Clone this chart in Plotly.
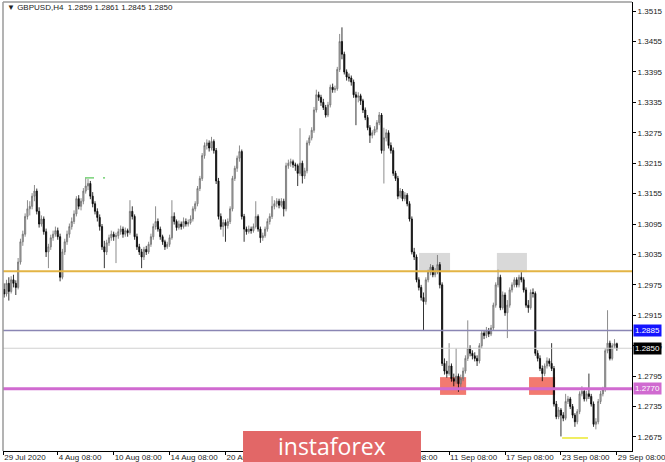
import plotly.graph_objects as go

# ---------------- data (GBPUSD H4) ----------------
bar_index = list(range(265))

opens = [
    1.2958, 1.2966, 1.2957, 1.2978, 1.2962, 1.2985, 1.2978, 1.2970, 1.3020, 1.3060,
    1.3075, 1.3110, 1.3125, 1.3130, 1.3150, 1.3160, 1.3120, 1.3095, 1.3105, 1.3080,
    1.3040, 1.3050, 1.3068, 1.3075, 1.3082, 1.3070, 1.2990, 1.3040, 1.3060, 1.3075,
    1.3090, 1.3100, 1.3115, 1.3145, 1.3130, 1.3140, 1.3160, 1.3170, 1.3175, 1.3150,
    1.3135, 1.3120, 1.3108, 1.3090, 1.3050, 1.3040, 1.3058, 1.3068, 1.3075, 1.3070,
    1.3072, 1.3080, 1.3085, 1.3075, 1.3082, 1.3078, 1.3120, 1.3110, 1.3070, 1.3050,
    1.3040, 1.3030, 1.3045, 1.3040, 1.3055, 1.3070, 1.3090, 1.3100, 1.3085, 1.3070,
    1.3060, 1.3050, 1.3055, 1.3068, 1.3110, 1.3100, 1.3088, 1.3095, 1.3090, 1.3100,
    1.3095, 1.3098, 1.3105, 1.3125, 1.3135, 1.3165, 1.3185, 1.3230, 1.3250, 1.3255,
    1.3245, 1.3258, 1.3240, 1.3180, 1.3110, 1.3090, 1.3098, 1.3092, 1.3100, 1.3125,
    1.3185, 1.3205, 1.3225, 1.3238, 1.3110, 1.3085, 1.3080, 1.3085, 1.3082, 1.3090,
    1.3110, 1.3085, 1.3068, 1.3072, 1.3085, 1.3100, 1.3110, 1.3130, 1.3135, 1.3140,
    1.3132, 1.3140, 1.3125, 1.3210, 1.3215, 1.3218, 1.3212, 1.3210, 1.3195, 1.3215,
    1.3190, 1.3200, 1.3255, 1.3265, 1.3280, 1.3320, 1.3350, 1.3345, 1.3335, 1.3325,
    1.3310, 1.3330, 1.3365, 1.3360, 1.3362, 1.3400, 1.3455, 1.3430, 1.3395, 1.3385,
    1.3383, 1.3375, 1.3350, 1.3345, 1.3348, 1.3338, 1.3320, 1.3305, 1.3285, 1.3270,
    1.3275, 1.3282, 1.3295, 1.3310, 1.3240, 1.3265, 1.3275, 1.3250, 1.3240, 1.3195,
    1.3185, 1.3150, 1.3160, 1.3145, 1.3152, 1.3135, 1.3105, 1.3040, 1.3030, 1.2985,
    1.2970, 1.2950, 1.2942, 1.2985, 1.3000, 1.3010, 1.2995, 1.3000, 1.3015, 1.2975,
    1.2820, 1.2805, 1.2800, 1.2815, 1.2790, 1.2785, 1.2795, 1.2780, 1.2790, 1.2805,
    1.2830, 1.2850, 1.2840, 1.2835, 1.2830, 1.2825, 1.2855, 1.2880, 1.2875, 1.2885,
    1.2878, 1.2890, 1.2935, 1.2975, 1.2990, 1.2930, 1.2955, 1.2920, 1.2935, 1.2965,
    1.2975, 1.2985, 1.2975, 1.2990, 1.2985, 1.2965, 1.2935, 1.2930, 1.2960, 1.2958,
    1.2840, 1.2830, 1.2810, 1.2800, 1.2815, 1.2825, 1.2820, 1.2810, 1.2740, 1.2715,
    1.2728, 1.2718, 1.2712, 1.2745, 1.2750, 1.2735, 1.2718, 1.2705, 1.2725, 1.2760,
    1.2765, 1.2750, 1.2760, 1.2755, 1.2740, 1.2700, 1.2705, 1.2745, 1.2760, 1.2768,
    1.2845, 1.2860, 1.2830, 1.2855, 1.2859,
]

highs = [
    1.2972, 1.2978, 1.2985, 1.2990, 1.2992, 1.2995, 1.2984, 1.3028, 1.3066, 1.3082,
    1.3116, 1.3142, 1.3140, 1.3156, 1.3172, 1.3165, 1.3128, 1.3112, 1.3110, 1.3086,
    1.3056, 1.3074, 1.3082, 1.3090, 1.3088, 1.3076, 1.3046, 1.3066, 1.3082, 1.3096,
    1.3108, 1.3122, 1.3150, 1.3152, 1.3146, 1.3166, 1.3185, 1.3184, 1.3180, 1.3158,
    1.3140, 1.3126, 1.3114, 1.3095, 1.3062, 1.3064, 1.3074, 1.3082, 1.3080, 1.3078,
    1.3086, 1.3092, 1.3090, 1.3088, 1.3086, 1.3142, 1.3130, 1.3114, 1.3076, 1.3056,
    1.3046, 1.3050, 1.3052, 1.3060, 1.3076, 1.3096, 1.3130, 1.3106, 1.3090, 1.3074,
    1.3064, 1.3060, 1.3074, 1.3142, 1.3118, 1.3104, 1.3102, 1.3100, 1.3108, 1.3106,
    1.3104, 1.3112, 1.3130, 1.3140, 1.3170, 1.3190, 1.3235, 1.3256, 1.3262, 1.3260,
    1.3267, 1.3262, 1.3245, 1.3186, 1.3116, 1.3104, 1.3104, 1.3106, 1.3130, 1.3190,
    1.3210, 1.3230, 1.3250, 1.3242, 1.3115, 1.3090, 1.3092, 1.3090, 1.3096, 1.3140,
    1.3114, 1.3090, 1.3078, 1.3090, 1.3106, 1.3116, 1.3150, 1.3142, 1.3146, 1.3145,
    1.3146, 1.3145, 1.3216, 1.3222, 1.3224, 1.3222, 1.3216, 1.3214, 1.3284, 1.3220,
    1.3206, 1.3260, 1.3270, 1.3286, 1.3326, 1.3360, 1.3356, 1.3350, 1.3342, 1.3330,
    1.3336, 1.3370, 1.3372, 1.3368, 1.3405, 1.3470, 1.3483, 1.3435, 1.3400, 1.3392,
    1.3388, 1.3380, 1.3356, 1.3355, 1.3352, 1.3342, 1.3325, 1.3310, 1.3290, 1.3280,
    1.3288, 1.3300, 1.3316, 1.3314, 1.3285, 1.3282, 1.3280, 1.3256, 1.3246, 1.3200,
    1.3190, 1.3166, 1.3164, 1.3158, 1.3156, 1.3140, 1.3110, 1.3048, 1.3035, 1.2990,
    1.2975, 1.2960, 1.2990, 1.3005, 1.3016, 1.3014, 1.3008, 1.3034, 1.3020, 1.2980,
    1.2830, 1.2825, 1.2860, 1.2820, 1.2800, 1.2850, 1.2800, 1.2798, 1.2812, 1.2836,
    1.2905, 1.2856, 1.2846, 1.2842, 1.2836, 1.2860, 1.2886, 1.2886, 1.2892, 1.2890,
    1.2896, 1.2940, 1.2980, 1.3005, 1.2995, 1.2962, 1.2960, 1.2945, 1.2970, 1.2980,
    1.2990, 1.2990, 1.2995, 1.3000, 1.2990, 1.2970, 1.2945, 1.2966, 1.2968, 1.2962,
    1.2846, 1.2836, 1.2816, 1.2820, 1.2832, 1.2830, 1.2860, 1.2815, 1.2746, 1.2734,
    1.2732, 1.2724, 1.2760, 1.2756, 1.2754, 1.2740, 1.2722, 1.2730, 1.2765, 1.2775,
    1.2770, 1.2766, 1.2800, 1.2760, 1.2745, 1.2712, 1.2750, 1.2766, 1.2774, 1.2850,
    1.2925, 1.2865, 1.2860, 1.2868, 1.2861,
]

lows = [
    1.2948, 1.2950, 1.2952, 1.2944, 1.2958, 1.2970, 1.2955, 1.2966, 1.3015, 1.3052,
    1.3070, 1.3104, 1.3112, 1.3124, 1.3140, 1.3114, 1.3088, 1.3090, 1.3074, 1.3030,
    1.3008, 1.3044, 1.3062, 1.3070, 1.3064, 1.2982, 1.2986, 1.3034, 1.3054, 1.3068,
    1.3084, 1.3095, 1.3110, 1.3124, 1.3122, 1.3134, 1.3155, 1.3162, 1.3144, 1.3128,
    1.3114, 1.3100, 1.3082, 1.3044, 1.3008, 1.3034, 1.3052, 1.3062, 1.3062, 1.3018,
    1.3066, 1.3074, 1.3068, 1.3070, 1.3070, 1.3074, 1.3104, 1.3064, 1.3044, 1.3034,
    1.3008, 1.3024, 1.3034, 1.3036, 1.3050, 1.3064, 1.3084, 1.3080, 1.3064, 1.3054,
    1.3044, 1.3046, 1.3050, 1.3064, 1.3094, 1.3082, 1.3084, 1.3084, 1.3086, 1.3090,
    1.3090, 1.3094, 1.3100, 1.3120, 1.3130, 1.3160, 1.3180, 1.3224, 1.3242, 1.3238,
    1.3240, 1.3234, 1.3174, 1.3104, 1.3084, 1.3070, 1.3060, 1.3086, 1.3095, 1.3120,
    1.3180, 1.3198, 1.3218, 1.3104, 1.3060, 1.3074, 1.3076, 1.3076, 1.3078, 1.3086,
    1.3080, 1.3058, 1.3062, 1.3068, 1.3080, 1.3094, 1.3105, 1.3124, 1.3128, 1.3126,
    1.3128, 1.3110, 1.3120, 1.3204, 1.3208, 1.3206, 1.3200, 1.3170, 1.3190, 1.3175,
    1.3184, 1.3195, 1.3250, 1.3260, 1.3275, 1.3315, 1.3338, 1.3328, 1.3320, 1.3305,
    1.3306, 1.3325, 1.3354, 1.3354, 1.3358, 1.3395, 1.3420, 1.3390, 1.3378, 1.3376,
    1.3368, 1.3344, 1.3290, 1.3335, 1.3330, 1.3314, 1.3300, 1.3280, 1.3255, 1.3264,
    1.3270, 1.3276, 1.3290, 1.3234, 1.3175, 1.3258, 1.3244, 1.3234, 1.3190, 1.3180,
    1.3144, 1.3146, 1.3140, 1.3140, 1.3130, 1.3100, 1.3035, 1.3024, 1.2980, 1.2964,
    1.2944, 1.2885, 1.2936, 1.2980, 1.2994, 1.2990, 1.2990, 1.2996, 1.2968, 1.2815,
    1.2798, 1.2792, 1.2796, 1.2784, 1.2775, 1.2780, 1.2764, 1.2774, 1.2785, 1.2800,
    1.2825, 1.2834, 1.2828, 1.2824, 1.2815, 1.2820, 1.2850, 1.2868, 1.2870, 1.2872,
    1.2874, 1.2885, 1.2930, 1.2970, 1.2925, 1.2926, 1.2914, 1.2870, 1.2930, 1.2960,
    1.2970, 1.2970, 1.2970, 1.2980, 1.2960, 1.2930, 1.2920, 1.2926, 1.2950, 1.2835,
    1.2824, 1.2805, 1.2785, 1.2795, 1.2810, 1.2814, 1.2805, 1.2735, 1.2710, 1.2710,
    1.2676, 1.2706, 1.2708, 1.2740, 1.2730, 1.2712, 1.2695, 1.2700, 1.2720, 1.2755,
    1.2745, 1.2745, 1.2750, 1.2735, 1.2695, 1.2690, 1.2700, 1.2740, 1.2755, 1.2764,
    1.2840, 1.2826, 1.2826, 1.2850, 1.2845,
]

closes = [
    1.2966, 1.2957, 1.2978, 1.2962, 1.2985, 1.2978, 1.2970, 1.3020, 1.3060, 1.3075,
    1.3110, 1.3125, 1.3130, 1.3150, 1.3160, 1.3120, 1.3095, 1.3105, 1.3080, 1.3040,
    1.3050, 1.3068, 1.3075, 1.3082, 1.3070, 1.2990, 1.3040, 1.3060, 1.3075, 1.3090,
    1.3100, 1.3115, 1.3145, 1.3130, 1.3140, 1.3160, 1.3170, 1.3175, 1.3150, 1.3135,
    1.3120, 1.3108, 1.3090, 1.3050, 1.3040, 1.3058, 1.3068, 1.3075, 1.3070, 1.3072,
    1.3080, 1.3085, 1.3075, 1.3082, 1.3078, 1.3120, 1.3110, 1.3070, 1.3050, 1.3040,
    1.3030, 1.3045, 1.3040, 1.3055, 1.3070, 1.3090, 1.3100, 1.3085, 1.3070, 1.3060,
    1.3050, 1.3055, 1.3068, 1.3110, 1.3100, 1.3088, 1.3095, 1.3090, 1.3100, 1.3095,
    1.3098, 1.3105, 1.3125, 1.3135, 1.3165, 1.3185, 1.3230, 1.3250, 1.3255, 1.3245,
    1.3258, 1.3240, 1.3180, 1.3110, 1.3090, 1.3098, 1.3092, 1.3100, 1.3125, 1.3185,
    1.3205, 1.3225, 1.3238, 1.3110, 1.3085, 1.3080, 1.3085, 1.3082, 1.3090, 1.3110,
    1.3085, 1.3068, 1.3072, 1.3085, 1.3100, 1.3110, 1.3130, 1.3135, 1.3140, 1.3132,
    1.3140, 1.3125, 1.3210, 1.3215, 1.3218, 1.3212, 1.3210, 1.3195, 1.3215, 1.3190,
    1.3200, 1.3255, 1.3265, 1.3280, 1.3320, 1.3350, 1.3345, 1.3335, 1.3325, 1.3310,
    1.3330, 1.3365, 1.3360, 1.3362, 1.3400, 1.3455, 1.3430, 1.3395, 1.3385, 1.3383,
    1.3375, 1.3350, 1.3345, 1.3348, 1.3338, 1.3320, 1.3305, 1.3285, 1.3270, 1.3275,
    1.3282, 1.3295, 1.3310, 1.3240, 1.3265, 1.3275, 1.3250, 1.3240, 1.3195, 1.3185,
    1.3150, 1.3160, 1.3145, 1.3152, 1.3135, 1.3105, 1.3040, 1.3030, 1.2985, 1.2970,
    1.2950, 1.2942, 1.2985, 1.3000, 1.3010, 1.2995, 1.3000, 1.3015, 1.2975, 1.2820,
    1.2805, 1.2800, 1.2815, 1.2790, 1.2785, 1.2795, 1.2780, 1.2790, 1.2805, 1.2830,
    1.2850, 1.2840, 1.2835, 1.2830, 1.2825, 1.2855, 1.2880, 1.2875, 1.2885, 1.2878,
    1.2890, 1.2935, 1.2975, 1.2990, 1.2930, 1.2955, 1.2920, 1.2935, 1.2965, 1.2975,
    1.2985, 1.2975, 1.2990, 1.2985, 1.2965, 1.2935, 1.2930, 1.2960, 1.2958, 1.2840,
    1.2830, 1.2810, 1.2800, 1.2815, 1.2825, 1.2820, 1.2810, 1.2740, 1.2715, 1.2728,
    1.2718, 1.2712, 1.2745, 1.2750, 1.2735, 1.2718, 1.2705, 1.2725, 1.2760, 1.2765,
    1.2750, 1.2760, 1.2755, 1.2740, 1.2700, 1.2705, 1.2745, 1.2760, 1.2768, 1.2845,
    1.2860, 1.2830, 1.2855, 1.2859, 1.2850,
]

assert len(opens) == len(highs) == len(lows) == len(closes) == len(bar_index)

x_tick_index = [0.6, 24, 48, 72, 96, 120, 144, 168, 192, 216, 240, 264]
x_tick_text = ["29 Jul 2020", "4 Aug 08:00", "10 Aug 08:00", "14 Aug 08:00",
               "20 Aug 08:00", "26 Aug 08:00", "1 Sep 08:00", "7 Sep 08:00",
               "11 Sep 08:00", "17 Sep 08:00", "23 Sep 08:00", "29 Sep 08:00"]

y_tick_values = [1.2675, 1.2735, 1.2795, 1.2855, 1.2915, 1.2975, 1.3035, 1.3095,
                 1.3155, 1.3215, 1.3275, 1.3335, 1.3395, 1.3455, 1.3515]

level_gold = 1.3002
level_resist = 1.2885
level_price = 1.2850
level_support = 1.2770

gray_zones = [(179.1, 192.4, 1.3000, 1.3038), (212.5, 225.4, 1.3000, 1.3038)]
red_zones = [(188.1, 199.3, 1.2758, 1.2793), (226.3, 237.5, 1.2758, 1.2793)]
yellow_seg = (240.5, 251.6, 1.2673)
green_seg = (35.7, 44.3, 1.3186)

title_text = "▼ GBPUSD,H4  1.2859 1.2861 1.2845 1.2850"

# ---------------- figure ----------------
FONT = "Liberation Sans"
fig = go.Figure()
fig.add_trace(go.Candlestick(
    x=bar_index, open=opens, high=highs, low=lows, close=closes,
    increasing=dict(line=dict(color="#6e6e6e", width=0.8), fillcolor="#b8b8b8"),
    decreasing=dict(line=dict(color="#000000", width=0.8), fillcolor="#1a1a1a"),
    whiskerwidth=0, hoverinfo="skip", showlegend=False,
))

shapes = []
for x0, x1, y0, y1 in gray_zones:
    shapes.append(dict(type="rect", xref="x", yref="y", x0=x0, x1=x1, y0=y0, y1=y1,
                       fillcolor="#d9d9d9", line=dict(width=0), layer="below"))
for x0, x1, y0, y1 in red_zones:
    shapes.append(dict(type="rect", xref="x", yref="y", x0=x0, x1=x1, y0=y0, y1=y1,
                       fillcolor="#f27a70", line=dict(width=0), layer="below"))

def hline(val, color, width, dash="solid"):
    return dict(type="line", xref="paper", yref="y", x0=0, x1=1, y0=val, y1=val,
                line=dict(color=color, width=width, dash=dash), layer="above")

shapes.append(hline(level_price, "#d0d0d0", 1))
shapes.append(hline(level_resist, "#8a86b4", 1.5))
shapes.append(hline(level_gold, "#e3b445", 2))
shapes.append(hline(level_support, "#d06ad0", 3))

shapes.append(dict(type="line", xref="x", yref="y", x0=yellow_seg[0], x1=yellow_seg[1],
                   y0=yellow_seg[2], y1=yellow_seg[2],
                   line=dict(color="#f0ee60", width=2)))
shapes.append(dict(type="line", xref="x", yref="y", x0=green_seg[0], x1=green_seg[1],
                   y0=green_seg[2], y1=green_seg[2],
                   line=dict(color="#33bb33", width=1, dash="dash")))

# frame left / top (gray)
shapes.append(dict(type="line", xref="paper", yref="paper", x0=0, x1=0, y0=0, y1=1,
                   line=dict(color="#9a9a9a", width=1.5)))
shapes.append(dict(type="line", xref="paper", yref="paper", x0=0, x1=1, y0=1, y1=1,
                   line=dict(color="#9a9a9a", width=1.5)))

# watermark banner
shapes.append(dict(type="rect", xref="paper", yref="paper",
                   x0=0.3816, x1=0.6645, y0=-0.030, y1=0.0445,
                   fillcolor="#e26767", line=dict(width=0), layer="above"))

annotations = [
    dict(xref="paper", yref="paper", x=0.003, y=0.987, xanchor="left", yanchor="middle",
         text=title_text, showarrow=False, font=dict(family=FONT, size=8, color="#222222")),
    dict(xref="paper", yref="paper", x=0.523, y=0.012, xanchor="center", yanchor="middle",
         text="instaforex", showarrow=False,
         font=dict(family="Open Sans", size=23, color="#ffffff")),
]
for val, bg in [(level_resist, "#1414ff"), (level_price, "#000000"), (level_support, "#d06ad0")]:
    annotations.append(dict(xref="paper", yref="y", x=1.0016, y=val, xanchor="left",
                            yanchor="middle", text=f"{val:.4f}", showarrow=False,
                            bgcolor=bg, borderpad=1,
                            font=dict(family=FONT, size=8, color="#ffffff")))

fig.update_layout(
    width=665, height=462,
    margin=dict(l=3, r=33, t=2, b=11, autoexpand=False),
    paper_bgcolor="#ffffff", plot_bgcolor="#ffffff",
    showlegend=False,
    shapes=shapes, annotations=annotations,
    xaxis=dict(range=[0.5, 270.5], tickmode="array", tickvals=x_tick_index,
               ticktext=x_tick_text, ticks="outside", ticklen=3, tickcolor="#000000",
               ticklabelposition="outside right", ticklabeloverflow="allow",
               ticklabelstandoff=-2,
               tickangle=0, automargin=False,
               showgrid=False, zeroline=False, showline=True, linecolor="#000000",
               linewidth=1, rangeslider=dict(visible=False),
               tickfont=dict(family=FONT, size=8, color="#222222")),
    yaxis=dict(range=[1.26473, 1.3533], side="right", tickmode="array",
               tickvals=y_tick_values, tickformat=".4f", ticks="outside", ticklen=3,
               tickcolor="#000000", showgrid=False, zeroline=False, showline=True,
               linecolor="#000000", linewidth=1, automargin=False,
               tickfont=dict(family=FONT, size=8, color="#222222")),
)

fig.write_html(
    "out.html",
    config={"displayModeBar": False},
    post_script="document.body.style.margin='0';document.body.style.overflow='hidden';",
)
